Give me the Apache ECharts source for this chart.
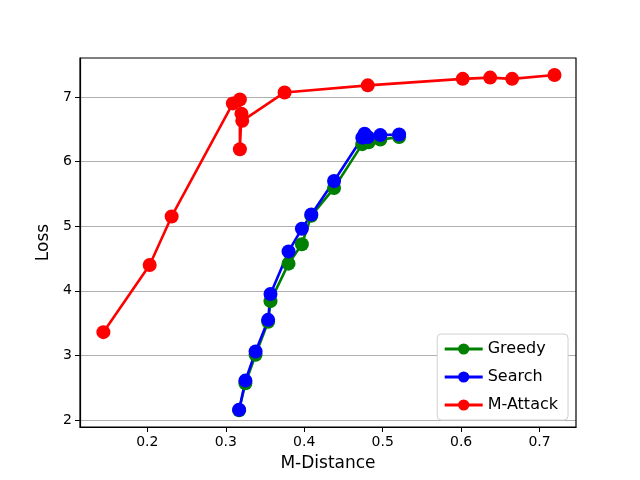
<!DOCTYPE html>
<html>
<head>
<meta charset="utf-8">
<script src="https://cdn.jsdelivr.net/npm/echarts@6/dist/echarts.min.js"></script>
<style>
  html, body { margin: 0; padding: 0; background: #fff; }
  #main { width: 640px; height: 480px; }
</style>
</head>
<body>
<div id="main"></div>
<script>
var xTicks = [0.2, 0.3, 0.4, 0.5, 0.6, 0.7];
var yTicks = [2, 3, 4, 5, 6, 7];

var greedyX = [0.317, 0.325, 0.338, 0.354, 0.357, 0.380, 0.397, 0.409, 0.438, 0.474, 0.482, 0.497, 0.521];
var greedyY = [2.15, 2.57, 3.01, 3.52, 3.84, 4.42, 4.72, 5.16, 5.59, 6.27, 6.30, 6.34, 6.38];

var searchX = [0.317, 0.325, 0.338, 0.354, 0.357, 0.380, 0.397, 0.409, 0.438, 0.474, 0.477, 0.481, 0.497, 0.521];
var searchY = [2.16, 2.61, 3.06, 3.55, 3.95, 4.61, 4.96, 5.18, 5.70, 6.37, 6.43, 6.38, 6.41, 6.42];

var attackX = [0.144, 0.203, 0.231, 0.309, 0.318, 0.318, 0.320, 0.321, 0.375, 0.481, 0.602, 0.637, 0.665, 0.719];
var attackY = [3.36, 4.40, 5.15, 6.90, 6.96, 6.19, 6.74, 6.63, 7.07, 7.18, 7.28, 7.30, 7.28, 7.34];

function pairs(xs, ys) {
    return xs.map(function (x, i) { return [x, ys[i]]; });
}

var font = 'DejaVu Sans';

function mkSeries(name, color, xs, ys) {
    return {
        name: name,
        type: 'line',
        data: pairs(xs, ys),
        symbol: 'circle',
        symbolSize: 14,
        showSymbol: true,
        lineStyle: { color: color, width: 2.6 },
        itemStyle: { color: color },
        animation: false
    };
}

var myChart = echarts.init(document.getElementById('main'));
var option = {
    backgroundColor: '#fff',
    animation: false,
    grid: { left: 80, right: 64, top: 58, bottom: 53 },
    xAxis: {
        type: 'value',
        min: 0.1142,
        max: 0.7464,
        name: 'M-Distance',
        nameLocation: 'middle',
        nameGap: 28,
        nameTextStyle: { fontFamily: font, fontSize: 17, color: '#000' },
        axisLine: { show: true, onZero: false, lineStyle: { color: '#000', width: 1.2 } },
        axisTick: { show: true, length: 5, lineStyle: { color: '#000' }, customValues: xTicks },
        axisLabel: {
            fontFamily: font, fontSize: 14, color: '#000', margin: 8,
            customValues: xTicks,
            formatter: function (v) { return v.toFixed(1); }
        },
        splitLine: { show: false }
    },
    yAxis: {
        type: 'value',
        min: 1.892,
        max: 7.603,
        name: 'Loss',
        nameLocation: 'middle',
        nameGap: 26,
        nameRotate: 90,
        nameTextStyle: { fontFamily: font, fontSize: 17, color: '#000' },
        axisLine: { show: true, onZero: false, lineStyle: { color: '#000', width: 1.2 } },
        axisTick: { show: true, length: 5, lineStyle: { color: '#000' }, customValues: yTicks },
        axisLabel: {
            fontFamily: font, fontSize: 14, color: '#000', margin: 8,
            customValues: yTicks
        },
        splitLine: { show: true, lineStyle: { color: '#b0b0b0', width: 1 } }
    },
    legend: {
        orient: 'vertical',
        right: 72,
        bottom: 60,
        padding: [7, 10, 7, 6],
        itemWidth: 38,
        itemHeight: 14,
        itemGap: 12,
        backgroundColor: '#fff',
        borderColor: '#d0d0d0',
        borderWidth: 1,
        borderRadius: 4,
        lineStyle: { width: 3 },
        textStyle: { fontFamily: font, fontSize: 16, color: '#000' },
        data: ['Greedy', 'Search', 'M-Attack']
    },
    series: [
        mkSeries('Greedy', '#008000', greedyX, greedyY),
        mkSeries('Search', '#0000ff', searchX, searchY),
        mkSeries('M-Attack', '#ff0000', attackX, attackY)
    ]
};
myChart.setOption(option);
// top and right spines
myChart.setOption({
    graphic: [{
        type: 'rect',
        shape: { x: 80, y: 58, width: 496, height: 369 },
        style: { fill: null, stroke: '#000', lineWidth: 1.2 },
        silent: true,
        z: 100
    }]
});
</script>
</body>
</html>
